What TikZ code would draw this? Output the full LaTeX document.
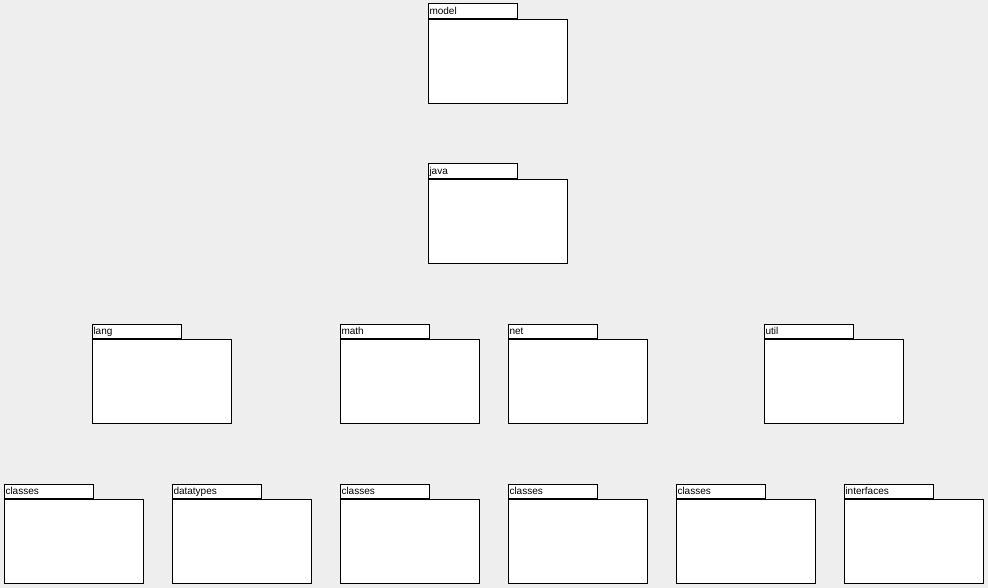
\documentclass[tikz,border=0pt]{standalone}
\usepackage{tikz}
\usepackage{fontspec}
\setmainfont{Liberation Sans}
\definecolor{backgray}{HTML}{EEEEEE}

\tikzset{
  pkgbody/.style={draw=black, fill=white, line width=1pt, anchor=north west,
    minimum width=139pt, minimum height=84pt, inner sep=0pt},
  pkgtab/.style={draw=black, fill=white, line width=1pt, anchor=south west,
    minimum width=89pt, minimum height=14.5pt, text width=87pt, inner xsep=1pt,
    inner ysep=0pt, align=left, text depth=2pt, text height=9pt,
    font=\fontsize{10}{10}\selectfont}
}

\begin{document}
\begin{tikzpicture}[x=1pt, y=-1pt]
\useasboundingbox[fill=backgray] (0,0) rectangle (988,588);

% top level
\node[pkgbody] (model) at (428,19) {};
\node[pkgtab] (modeltab) at (model.north west) {model};

\node[pkgbody] (java) at (428,179) {};
\node[pkgtab] (javatab) at (java.north west) {java};

% java packages
\node[pkgbody] (lang) at (92,339) {};
\node[pkgtab] (langtab) at (lang.north west) {lang};

\node[pkgbody] (math) at (340,339) {};
\node[pkgtab] (mathtab) at (math.north west) {math};

\node[pkgbody] (net) at (508,339) {};
\node[pkgtab] (nettab) at (net.north west) {net};

\node[pkgbody] (util) at (764,339) {};
\node[pkgtab] (utiltab) at (util.north west) {util};

% sub packages
\node[pkgbody] (langclasses) at (4,499) {};
\node[pkgtab] (langclassestab) at (langclasses.north west) {classes};

\node[pkgbody] (datatypes) at (172,499) {};
\node[pkgtab] (datatypestab) at (datatypes.north west) {datatypes};

\node[pkgbody] (mathclasses) at (340,499) {};
\node[pkgtab] (mathclassestab) at (mathclasses.north west) {classes};

\node[pkgbody] (netclasses) at (508,499) {};
\node[pkgtab] (netclassestab) at (netclasses.north west) {classes};

\node[pkgbody] (utilclasses) at (676,499) {};
\node[pkgtab] (utilclassestab) at (utilclasses.north west) {classes};

\node[pkgbody] (interfaces) at (844,499) {};
\node[pkgtab] (interfacestab) at (interfaces.north west) {interfaces};
\end{tikzpicture}
\end{document}
